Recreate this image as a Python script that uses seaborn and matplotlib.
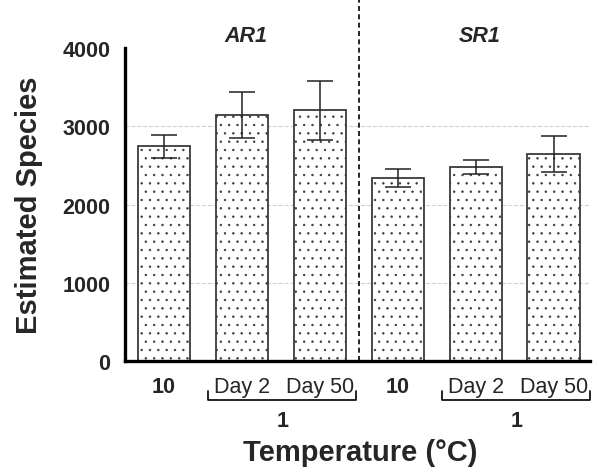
import matplotlib
matplotlib.use('Agg')
import matplotlib.pyplot as plt
import matplotlib.transforms as mtransforms
import numpy as np
import pandas as pd
import seaborn as sns

# Data
groups = ['AR1', 'SR1']
conditions = ['10', 'Day 2', 'Day 50']
species_ar1 = [2745, 3140, 3205]
species_sr1 = [2340, 2480, 2650]
err_ar1 = [150, 295, 380]
err_sr1 = [110, 90, 230]
y_ticks = [0, 1000, 2000, 3000, 4000]

df = pd.DataFrame({
    'group': [g for g in groups for _ in conditions],
    'cond': conditions * 2,
    'species': species_ar1 + species_sr1,
    'err': err_ar1 + err_sr1,
})
df['key'] = df['group'] + ' ' + df['cond']

sns.set_style('white')
plt.rcParams['font.family'] = ['Liberation Sans', 'DejaVu Sans']
plt.rcParams['hatch.linewidth'] = 0.5

fig = plt.figure(figsize=(5.98, 4.77), dpi=100)
ax = fig.add_axes([0.209, 0.241, 0.778, 0.656])

sns.barplot(data=df, x='key', y='species', color='white', saturation=1,
            edgecolor='#3a3a3a', linewidth=1.3, hatch='..', width=0.67,
            errorbar=None, ax=ax, zorder=2)

# Error bars (mean +/- error)
xpos = np.arange(len(df))
ax.errorbar(xpos, df['species'], yerr=df['err'], fmt='none', ecolor='#222222',
            elinewidth=1.1, capsize=9.5, capthick=1.1, zorder=3)

# Axes styling
ax.set_xlim(-0.5, 5.47)
ax.set_ylim(0, 4000)
ax.set_yticks(y_ticks)
ax.set_yticklabels([str(t) for t in y_ticks], fontsize=15.5, fontweight='bold')
# light dashed grid, not at the top tick
for t in y_ticks[1:-1]:
    ax.axhline(t, linestyle='--', color='#d0d0d0', linewidth=0.8, zorder=0)
for s in ['top', 'right']:
    ax.spines[s].set_visible(False)
for s in ['left', 'bottom']:
    ax.spines[s].set_linewidth(2.4)
    ax.spines[s].set_color('black')
ax.tick_params(axis='both', length=7, width=2.2, color='black', direction='out')
ax.tick_params(axis='x', pad=4)

ax.set_xticks(xpos)
ax.set_xticklabels(df['cond'], fontsize=15.5)
for lab in ax.get_xticklabels():
    if lab.get_text() == '10':
        lab.set_fontweight('bold')

ax.set_xlabel('')
ax.set_ylabel('Estimated Species', fontsize=21, fontweight='bold', labelpad=14)

# Group divider
ax.axvline(2.5, ymin=0, ymax=1.157, color='black', linestyle=(0, (3, 2)),
           linewidth=1.2, clip_on=False, zorder=4)

# Group titles and day brackets
trans = mtransforms.blended_transform_factory(ax.transData, ax.transAxes)
for gi, g in enumerate(groups):
    base = gi * len(conditions)
    ax.text(base + 1.05, 1.04, g, transform=trans, ha='center', va='center',
            fontsize=15.5, fontweight='bold', fontstyle='italic')
    x0, x1 = base + 0.57, base + 2.47
    ax.plot([x0, x0, x1, x1], [-0.097, -0.124, -0.124, -0.097], transform=trans,
            color='black', linewidth=1.2, clip_on=False)
    ax.text(base + 1.52, -0.19, '1', transform=trans, ha='center', va='center',
            fontsize=15.5, fontweight='bold')

ax.text(0.505, -0.29, 'Temperature (°C)', transform=ax.transAxes, ha='center',
        va='center', fontsize=21, fontweight='bold')

fig.savefig('out.png', dpi=100)
